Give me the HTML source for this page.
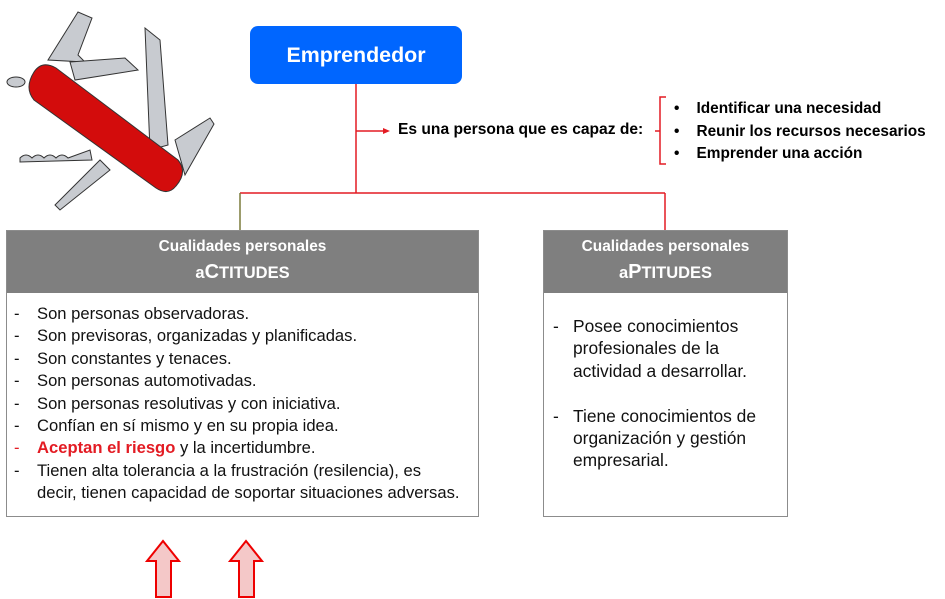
<!DOCTYPE html>
<html><head><meta charset="utf-8"><style>
body{margin:0;width:945px;height:599px;background:#fff;position:relative;overflow:hidden;font-family:"Liberation Sans",sans-serif;}
.abs{position:absolute}
.hdr{background:#7f7f7f;color:#fff;text-align:center;font-weight:bold;}
.box{position:absolute;border:1px solid #8c8c8c;background:#fff;box-sizing:border-box}
.d{display:inline-block;width:23px}
</style></head><body>
<svg class="abs" style="left:0;top:0" width="945" height="599">
 <g stroke="#333" stroke-width="1" fill="#c8cbd0">
  <path d="M48,60 L78,12 L92,18 L78,55 L85,62 Z"/>
  <path d="M70,62 L125,58 L138,70 L75,80 Z"/>
  <path d="M145,28 L160,40 L168,145 L150,150 Z"/>
  <path d="M175,140 L210,118 L214,124 L185,175 Z"/>
  <path d="M100,160 L55,205 L60,210 L110,170 Z"/>
  <path d="M20,158 q6,-6 12,0 q6,-6 12,0 q6,-6 12,0 q6,-6 12,0 L90,150 L92,160 L20,162 Z"/>
  <ellipse cx="16" cy="82" rx="9" ry="5"/>
 </g>
 <path d="M34,72 Q42,60 56,68 L178,160 Q188,172 176,186 Q168,196 156,188 L34,100 Q24,88 34,72 Z" fill="#d30c0c" stroke="#333" stroke-width="1"/>
 <g stroke="#e31b23" stroke-width="1.5" fill="none">
  <line x1="356" y1="84" x2="356" y2="193"/>
  <line x1="240" y1="193" x2="665" y2="193"/>
  <line x1="665" y1="193" x2="665" y2="231"/>
  <line x1="356" y1="131" x2="384" y2="131"/>
  <path d="M666,97 L660,97 L660,164 L666,164 M660,131 L655,131"/>
 </g>
 <line x1="240" y1="193" x2="240" y2="231" stroke="#7a7a3a" stroke-width="1.5"/>
 <path d="M383,128 L390,131 L383,134 Z" fill="#e31b23"/>
 <g fill="#f4c8c8" stroke="#e00" stroke-width="2">
  <path d="M147,561 L163,541 L179,561 L171,561 L171,597 L156,597 L156,561 Z"/>
  <path d="M230,561 L246,541 L262,561 L254,561 L254,597 L239,597 L239,561 Z"/>
 </g>
</svg>
<div class="abs" style="left:250px;top:26px;width:212px;height:58px;background:#0066ff;border-radius:8px;color:#fff;font-weight:bold;font-size:21.4px;line-height:58px;text-align:center">Emprendedor</div>
<div class="abs" style="left:398px;top:121px;font-weight:bold;font-size:15.6px">Es una persona que es capaz de:</div>
<div class="abs" style="left:674px;top:98px;font-weight:bold;font-size:15.4px;line-height:22.5px">
<div>•&nbsp;&nbsp;&nbsp; Identificar una necesidad</div>
<div>•&nbsp;&nbsp;&nbsp; Reunir los recursos necesarios</div>
<div>•&nbsp;&nbsp;&nbsp; Emprender una acción</div></div>

<div class="box" style="left:6px;top:230px;width:473px;height:287px">
 <div class="hdr" style="height:62px"><div style="font-size:15.4px;padding-top:7px">Cualidades personales</div><div style="font-size:16.5px;margin-top:5px">a<span style="font-size:20px">C</span>TITUDES</div></div>
</div>
<div class="abs" style="left:14px;top:303px;font-size:16.6px;line-height:22.4px;color:#111;white-space:nowrap">
<div><span class="d">-</span>Son personas observadoras.</div>
<div><span class="d">-</span>Son previsoras, organizadas y planificadas.</div>
<div><span class="d">-</span>Son constantes y tenaces.</div>
<div><span class="d">-</span>Son personas automotivadas.</div>
<div><span class="d">-</span>Son personas resolutivas y con iniciativa.</div>
<div><span class="d">-</span>Confían en sí mismo y en su propia idea.</div>
<div><span style="color:#e31b23"><span class="d">-</span><b>Aceptan el riesgo</b></span> y la incertidumbre.</div>
<div><span class="d">-</span>Tienen alta tolerancia a la frustración (resilencia), es</div>
<div style="padding-left:23px">decir, tienen capacidad de soportar situaciones adversas.</div>
</div>

<div class="box" style="left:543px;top:230px;width:245px;height:287px">
 <div class="hdr" style="height:62px"><div style="font-size:15.4px;padding-top:7px">Cualidades personales</div><div style="font-size:16.5px;margin-top:5px">a<span style="font-size:20px">P</span>TITUDES</div></div>
</div>
<div class="abs" style="left:553px;top:315px;font-size:17.4px;line-height:22.4px;color:#111;white-space:nowrap">
<div><span class="d" style="width:20px">-</span>Posee conocimientos</div>
<div style="padding-left:20px">profesionales de la</div>
<div style="padding-left:20px">actividad a desarrollar.</div>
<div>&nbsp;</div>
<div><span class="d" style="width:20px">-</span>Tiene conocimientos de</div>
<div style="padding-left:20px">organización y gestión</div>
<div style="padding-left:20px">empresarial.</div>
</div>
</body></html>
